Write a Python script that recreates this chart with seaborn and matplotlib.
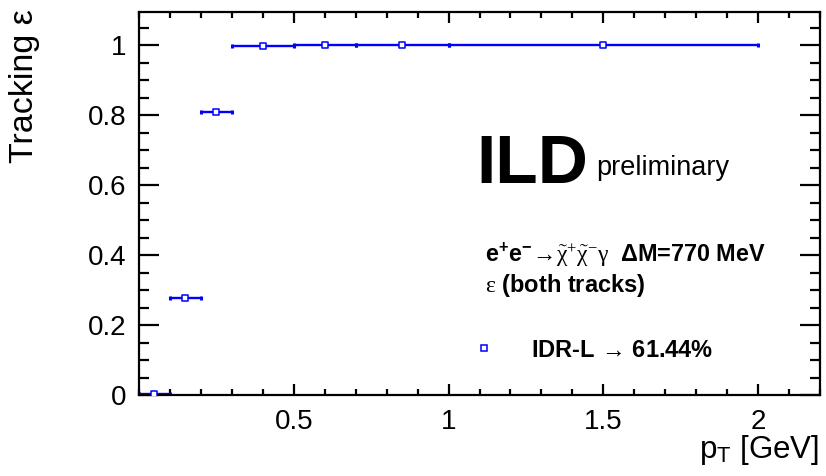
import numpy as np
import pandas as pd
import matplotlib
matplotlib.use("Agg")
import matplotlib.pyplot as plt
from matplotlib.ticker import MultipleLocator
import seaborn as sns

# Tracking efficiency per pT bin
bin_lo = [0.0, 0.1, 0.2, 0.3, 0.5, 0.7, 1.0]
bin_hi = [0.1, 0.2, 0.3, 0.5, 0.7, 1.0, 2.0]
efficiency = [0.004, 0.278, 0.81, 0.998, 1.0, 1.0, 1.0]
x_ticks = [0.5, 1.0, 1.5, 2.0]
x_tick_labels = ["0.5", "1", "1.5", "2"]
y_ticks = [0, 0.2, 0.4, 0.6, 0.8, 1.0]
y_tick_labels = ["0", "0.2", "0.4", "0.6", "0.8", "1"]

df = pd.DataFrame({"lo": bin_lo, "hi": bin_hi, "eff": efficiency})
df["pt"] = 0.5 * (df["lo"] + df["hi"])
df["half"] = 0.5 * (df["hi"] - df["lo"])

sns.set_style("ticks")
plt.rcParams["font.family"] = ["Liberation Sans", "DejaVu Sans"]
plt.rcParams["text.color"] = "black"
plt.rcParams["mathtext.fontset"] = "custom"
plt.rcParams["mathtext.rm"] = "Liberation Serif"
plt.rcParams["mathtext.it"] = "Liberation Serif:italic"
plt.rcParams["mathtext.bf"] = "Liberation Sans:bold"
plt.rcParams["mathtext.sf"] = "Liberation Sans"
plt.rcParams["mathtext.default"] = "rm"

W, H = 826, 476
fig = plt.figure(figsize=(W / 100, H / 100), dpi=100)
ax = fig.add_axes([139 / W, 1 - 395 / H, (820 - 139) / W, (395 - 12) / H])

blue = "#0000ff"
ax.errorbar(df["pt"], df["eff"], xerr=df["half"], fmt="none",
            ecolor=blue, elinewidth=1.7, capsize=1.2, capthick=2.2, zorder=2)
sns.scatterplot(data=df, x="pt", y="eff", ax=ax, marker="s", s=22,
                facecolor="white", edgecolor=blue, linewidth=1.1, zorder=3,
                legend=False)

ax.set_xlim(0, 2.2)
ax.set_ylim(0, 1.095)
ax.xaxis.set_minor_locator(MultipleLocator(0.1))
ax.yaxis.set_minor_locator(MultipleLocator(0.05))
ax.set_xticks(x_ticks)
ax.set_xticklabels(x_tick_labels)
ax.set_yticks(y_ticks)
ax.set_yticklabels(y_tick_labels)

for s in ax.spines.values():
    s.set_linewidth(1.6)
    s.set_color("black")
ax.tick_params(axis="both", which="both", direction="in", top=True, right=True,
               color="black", width=1.6, labelsize=20, labelcolor="black")
ax.tick_params(axis="x", which="major", length=8, pad=10)
ax.tick_params(axis="x", which="minor", length=4)
ax.tick_params(axis="y", which="major", length=14.5, pad=9)
ax.tick_params(axis="y", which="minor", length=7.2)
ax.set_xlabel("")
ax.set_ylabel("")

fig.text(25 / W, 1 - 9 / H, "Tracking \u03b5", rotation=90, ha="center",
         va="top", fontsize=24.5)
fig.text(819 / W, 1 - 458 / H, r"p$_{\mathsf{T}}$ [GeV]", ha="right",
         va="baseline", fontsize=22.5)

fig.text(476 / W, 1 - 183 / H, "ILD", fontsize=50, fontweight="bold",
         va="baseline", ha="left")
fig.text(596 / W, 1 - 175 / H, "preliminary", fontsize=19.5,
         va="baseline", ha="left")

fig.text(485 / W, 1 - 262 / H,
         r"$\mathbf{e^{+}e^{-}}\!\rightarrow\!\tilde{\chi}^{+}\tilde{\chi}^{-}\gamma$  "
         + "\u0394M=770 MeV",
         fontsize=16.8, fontweight="bold", va="baseline", ha="left")
fig.text(485 / W, 1 - 292 / H, r"$\varepsilon$ (both tracks)",
         fontsize=17, fontweight="bold", va="baseline", ha="left")

fig.lines.append(plt.Line2D([484 / W], [1 - 348 / H], transform=fig.transFigure,
                            marker="s", markersize=4.2, markerfacecolor="white",
                            markeredgecolor=blue, markeredgewidth=1.1,
                            linestyle="none"))
fig.text(531 / W, 1 - 357 / H, r"IDR-L $\!\rightarrow\!$ 61.44%",
         fontsize=17, fontweight="bold", va="baseline", ha="left")

fig.savefig("out.png", dpi=100)
